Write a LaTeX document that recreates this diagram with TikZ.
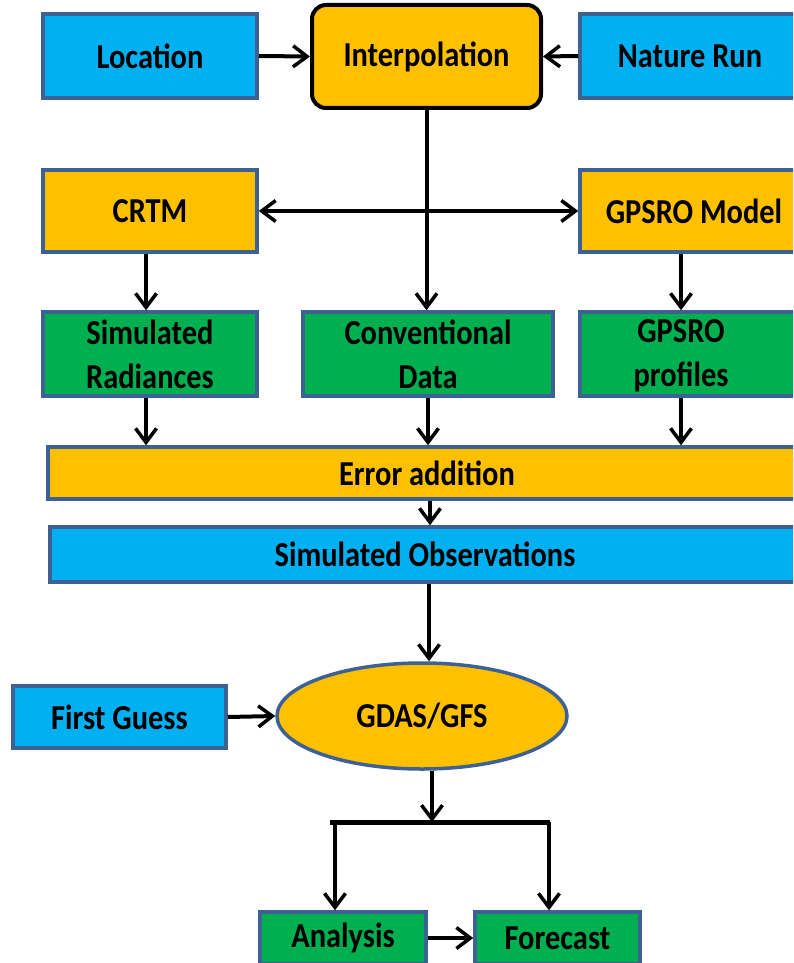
\documentclass[tikz,border=0pt]{standalone}
\usepackage{fontspec}
\setmainfont{Carlito}[FakeStretch=0.87]
\usetikzlibrary{arrows.meta,shapes.geometric,calc}
\definecolor{cblue}{HTML}{00B0F0}
\definecolor{corange}{HTML}{FFC000}
\definecolor{cgreen}{HTML}{00B050}
\definecolor{cborder}{HTML}{3E6195}
\tikzset{
  box/.style={draw=cborder, line width=3.5pt, inner sep=0pt, align=center,
    font=\fontsize{35}{44}\selectfont\bfseries},
  bluebox/.style={box, fill=cblue},
  orangebox/.style={box, fill=corange},
  greenbox/.style={box, fill=cgreen},
  txt/.style={inner sep=0pt, align=center, font=\fontsize{35}{44}\selectfont\bfseries},
  arr/.style={line width=4pt, -{Straight Barb[length=14pt,width=21pt,line width=3.5pt]}},
  darr/.style={line width=4pt, {Straight Barb[length=14pt,width=21pt,line width=3.5pt]}-{Straight Barb[length=14pt,width=21pt,line width=3.5pt]}}
}
\begin{document}
\begin{tikzpicture}[x=1pt,y=-1pt]
\useasboundingbox (0,0) rectangle (793,963);
\clip (0,0) rectangle (793,963);
% row 1
\node[bluebox, minimum width=214pt, minimum height=84pt] (loc) at (150,56) {Location};
\node[box, fill=corange, draw=black, line width=4pt, rounded corners=14pt, minimum width=229pt, minimum height=103pt] (interp) at (426.5,56.5) {Interpolation};
\node[bluebox, minimum width=220pt, minimum height=84pt] (nature) at (690,56) {Nature Run};
% row 2
\node[orangebox, minimum width=214pt, minimum height=82pt] (crtm) at (150,211) {CRTM};
\node[orangebox, minimum width=228pt, minimum height=82pt] (gpsmod) at (694,211) {GPSRO Model};
% row 3
\node[greenbox, minimum width=214pt, minimum height=84pt] (simrad) at (150,354) {Simulated\\Radiances};
\node[greenbox, minimum width=250pt, minimum height=84pt] (conv) at (428,354) {Conventional\\Data};
\node[greenbox, minimum width=226pt, minimum height=84pt] (gpsprof) at (693,354) {};
\node[txt] (gpsprof-t) at (681,356) {GPSRO\\profiles};
% row 4, 5
\node[orangebox, minimum width=758pt, minimum height=52pt] (err) at (427,473) {Error addition};
\node[bluebox, minimum width=750pt, minimum height=55pt] (simobs) at (425,554.5) {Simulated Observations};
% row 6
\node[bluebox, minimum width=213pt, minimum height=62pt] (fg) at (119.5,717) {First Guess};
\node[box, ellipse, fill=corange, minimum width=290pt, minimum height=106pt] (gdas) at (422,716) {GDAS/GFS};
% row 7
\node[greenbox, minimum width=166pt, minimum height=52pt] (ana) at (343,938) {Analysis};
\node[greenbox, minimum width=165pt, minimum height=52pt] (fc) at (557.5,938) {Forecast};
\coordinate (bar) at (432,822);
\coordinate (barL) at (330,822);
\coordinate (barR) at (550,822);
\coordinate (dl) at (335,822);
\coordinate (dr) at (549,822);
% connectors
\draw[arr] (loc.east) -- (interp.west);
\draw[arr] (nature.west) -- (interp.east);
\draw[arr] (interp.south) -- (interp.south |- conv.north);
\draw[darr] (crtm.east) -- (gpsmod.west);
\draw[arr] ([xshift=-4pt]crtm.south) -- ([xshift=-4pt]simrad.north);
\draw[arr] (gpsprof-t |- gpsmod.south) -- (gpsprof-t |- gpsprof.north);
\draw[arr] ([xshift=-4pt]simrad.south) -- ([xshift=-4pt]simrad.south |- err.north);
\draw[arr] (conv.south) -- (conv.south |- err.north);
\draw[arr] (gpsprof-t |- gpsprof.south) -- (gpsprof-t |- err.north);
\draw[arr] ([xshift=3pt]err.south) -- ([xshift=3pt]err.south |- simobs.north);
\draw[arr] ([xshift=4pt]simobs.south) -- ([xshift=4pt]simobs.south |- gdas.north);
\draw[arr] (fg.east) -- (gdas.west);
\draw[arr] (gdas.south -| bar) -- (bar);
\draw[line width=5pt] (barL) -- (barR);
\draw[arr] (dl) -- (dl |- ana.north);
\draw[arr] (dr) -- (dr |- fc.north);
\draw[arr] (ana.east) -- (fc.west);
\end{tikzpicture}
\end{document}
